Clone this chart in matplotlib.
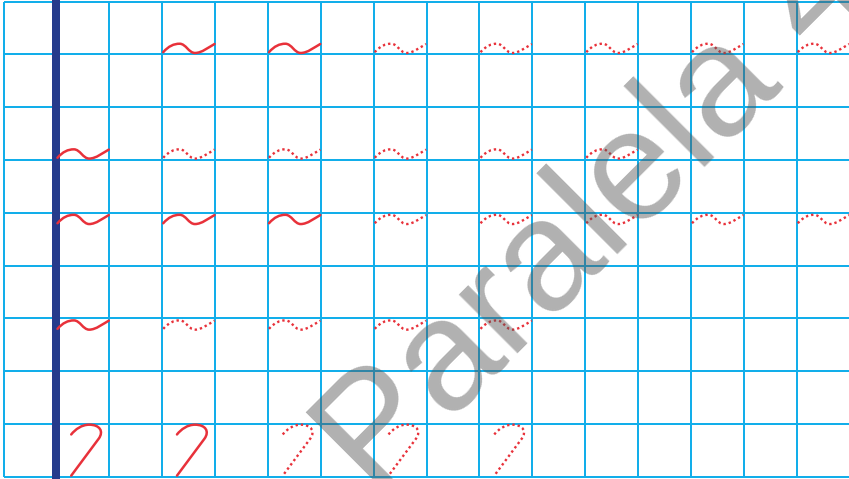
import matplotlib
matplotlib.use("Agg")
import matplotlib.pyplot as plt
from matplotlib.path import Path
from matplotlib.patches import PathPatch
from matplotlib.transforms import Affine2D

# ---- worksheet layout data (grid units: 1 = one square) ----
n_cols = 16
n_rows = 9
margin_col = 1

tilde_rows = [0, 2, 4, 6]
tilde_anchor = ["bottom", "bottom", "top", "top"]
tilde_solid_cols = [[3, 5], [1], [1, 3, 5], [1]]
tilde_dotted_cols = [[7, 9, 11, 13, 15], [3, 5, 7, 9, 11], [7, 9, 11, 13, 15], [3, 5, 7, 9]]

hook_row = 8
hook_solid_cols = [1, 3]
hook_dotted_cols = [5, 7, 9]

watermark = "Paralela 45"

# ---- styles ----
GRID = "#12AEEA"
NAVY = "#253B8C"
RED = "#E8313A"
PX = 0.72  # points per pixel at dpi 100

fig = plt.figure(figsize=(8.49, 4.79), dpi=100)
ax = fig.add_axes([0, 0, 1, 1])
ax.set_axis_off()
cw, ch = 52.88, 52.8
x0, y0 = 3.54, 1.5
ax.set_xlim(-x0 / cw, (849 - x0) / cw)
ax.set_ylim((479 - y0) / ch, -y0 / ch)

for c in range(n_cols + 1):
    ax.plot([c, c], [0, n_rows], color=GRID, lw=2.0 * PX, zorder=1, solid_capstyle="butt")
for r in range(n_rows + 1):
    ax.plot([0, n_cols], [r, r], color=GRID, lw=2.0 * PX, zorder=1, solid_capstyle="butt")

ax.plot([margin_col, margin_col], [-0.1, n_rows + 0.1], color=NAVY, lw=8 * PX, zorder=2,
        solid_capstyle="butt")

# tilde template (x, height above base)
tilde_verts = [(0.02, 0.015),
               (0.12, 0.13), (0.22, 0.175), (0.33, 0.175),
               (0.45, 0.175), (0.50, 0.0), (0.62, 0.0),
               (0.75, 0.0), (0.88, 0.11), (0.99, 0.17)]
tilde_codes = [Path.MOVETO] + [Path.CURVE4] * 9
tilde_path = Path([(x, -h) for x, h in tilde_verts], tilde_codes)

hook_verts = [(0.28, 0.20),
              (0.36, 0.10), (0.48, 0.015), (0.62, 0.015),
              (0.82, 0.015), (0.90, 0.14), (0.80, 0.28),
              (0.28, 0.98)]
hook_codes = [Path.MOVETO] + [Path.CURVE4] * 6 + [Path.LINETO]
hook_path = Path(hook_verts, hook_codes)

SOLID = dict(color=RED, lw=1.8, capstyle="round", joinstyle="round")
DOTTED = dict(color=RED, lw=1.7, linestyle=(0, (1, 1.25)), capstyle="butt")


def draw(path, col, base, style):
    p = path.transformed(Affine2D().translate(col, base))
    ax.add_patch(PathPatch(p, fill=False, zorder=3, **style))


for row, anchor, sc, dc in zip(tilde_rows, tilde_anchor, tilde_solid_cols, tilde_dotted_cols):
    if anchor == "bottom":
        base = row + 1 - 0.025
    else:
        base = row + 0.215
    for c in sc:
        draw(tilde_path, c, base, SOLID)
    for c in dc:
        draw(tilde_path, c, base, DOTTED)

for c in hook_solid_cols:
    draw(hook_path, c, hook_row, SOLID)
for c in hook_dotted_cols:
    draw(hook_path, c, hook_row, DOTTED)

ax.text((374.0 - x0) / cw, (498.0 - y0) / ch, watermark, family="Liberation Sans",
        fontsize=114, color="#555555", alpha=0.46, rotation=45, rotation_mode="anchor",
        ha="left", va="baseline", zorder=10, clip_on=False)

fig.savefig("out.png", dpi=100)
